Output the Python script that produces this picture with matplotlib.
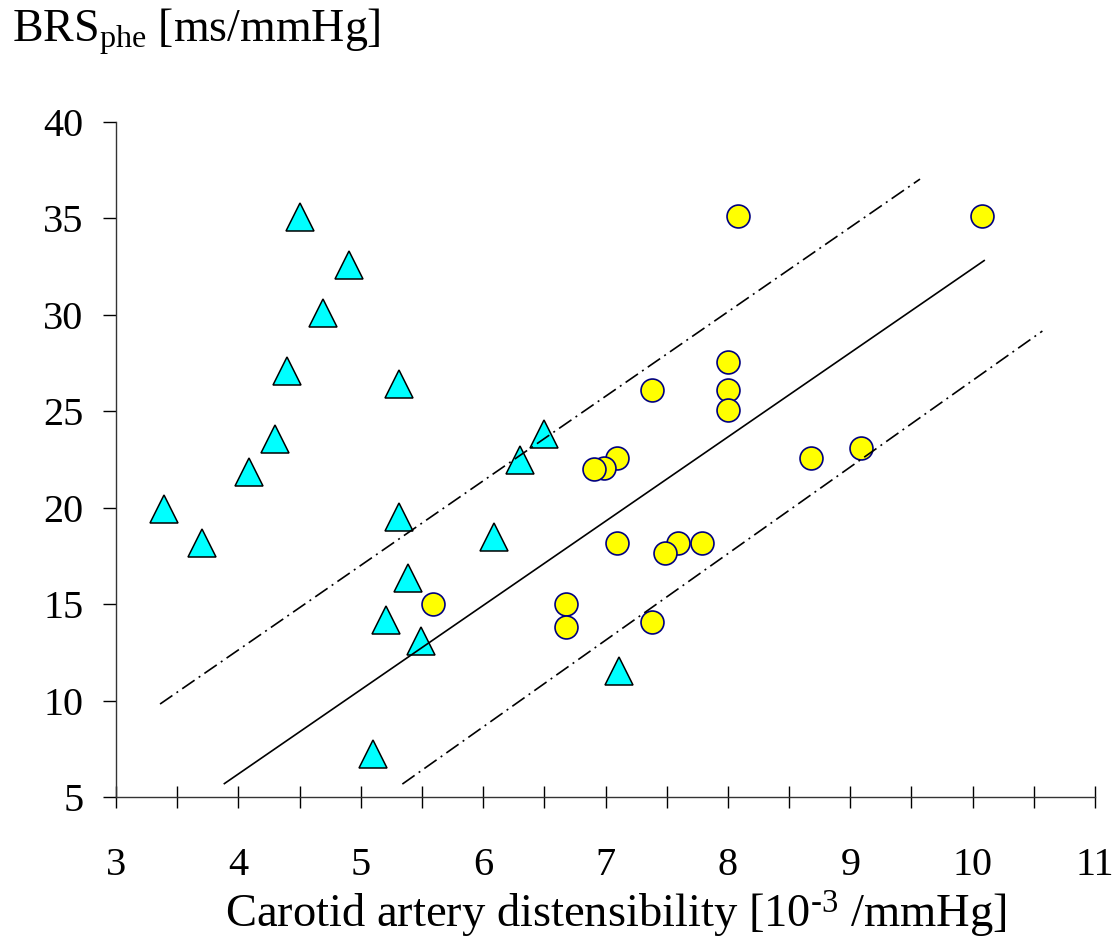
import matplotlib
matplotlib.use("Agg")
import matplotlib.pyplot as plt
from matplotlib.ticker import MultipleLocator
import numpy as np

# ---- data ----
tri_x = [3.39, 3.70, 4.09, 4.30, 4.40, 4.50, 4.69, 4.90, 5.31, 5.31, 5.39, 5.21, 5.49, 5.10, 6.09, 6.30, 6.50, 7.11]
tri_y = [19.92, 18.18, 21.86, 23.56, 27.08, 35.07, 30.09, 32.58, 26.43, 19.52, 16.37, 14.16, 13.09, 7.24, 18.46, 22.50, 23.82, 11.55]

circ_x = [5.59, 6.68, 6.68, 7.09, 6.99, 6.91, 7.09, 7.38, 7.38, 7.59, 7.49, 7.79, 8.00, 8.00, 8.00, 8.08, 8.68, 9.09, 10.08]
circ_y = [15.00, 15.00, 13.83, 22.60, 22.04, 22.00, 18.15, 26.10, 14.09, 18.18, 17.63, 18.15, 27.55, 26.10, 25.06, 35.12, 22.58, 23.12, 35.12]

reg_x = [3.88, 10.10]
reg_y = [5.67, 32.84]
upper_x = [3.36, 9.57]
upper_y = [9.82, 37.04]
lower_x = [5.34, 10.57]
lower_y = [5.67, 29.16]

x_ticks = [3, 4, 5, 6, 7, 8, 9, 10, 11]
y_ticks = [5, 10, 15, 20, 25, 30, 35, 40]

title_text = r"BRS$_{\mathrm{phe}}$ [ms/mmHg]"
xlabel_text = "Carotid artery distensibility [10$^{\\mathrm{\u20103}}$ /mmHg]"

# ---- style ----
plt.rcParams['font.family'] = ['Liberation Serif', 'DejaVu Serif']
plt.rcParams['mathtext.fontset'] = 'custom'
plt.rcParams['mathtext.rm'] = 'Liberation Serif'
plt.rcParams['mathtext.it'] = 'Liberation Serif:italic'
plt.rcParams['lines.scale_dashes'] = False

W, H = 1115, 948
fig = plt.figure(figsize=(W / 100, H / 100), dpi=100)
ax = fig.add_axes([116 / W, 1 - 797 / H, (1095 - 116) / W, (797 - 122) / H])

ax.set_xlim(3, 11)
ax.set_ylim(5, 40)

ax.plot(tri_x, tri_y, linestyle='none', marker='^', markersize=19.5,
        markerfacecolor='#00FFFF', markeredgecolor='black', markeredgewidth=1.1, zorder=3)
ax.plot(circ_x, circ_y, linestyle='none', marker='o', markersize=16.5,
        markerfacecolor='#FFFF00', markeredgecolor='#000080', markeredgewidth=1.2, zorder=3)

ax.plot(reg_x, reg_y, color='black', lw=1.2, zorder=4, solid_capstyle='butt')
dd = (0, (10.8, 3.6, 1.4, 3.6))
ax.plot(upper_x, upper_y, color='black', lw=1.2, linestyle=dd, zorder=4)
ax.plot(lower_x, lower_y, color='black', lw=1.2, linestyle=dd, zorder=4)

for s in ['top', 'right']:
    ax.spines[s].set_visible(False)
for s in ['left', 'bottom']:
    ax.spines[s].set_color('#333333')
    ax.spines[s].set_linewidth(1.0)

ax.set_xticks(x_ticks)
ax.set_xticklabels([str(t) for t in x_ticks])
ax.xaxis.set_minor_locator(MultipleLocator(0.5))
ax.set_yticks(y_ticks)
ax.set_yticklabels([str(t) for t in y_ticks])

ax.tick_params(axis='x', which='both', direction='inout', length=16, width=1.0, color='black')
ax.tick_params(axis='x', which='major', labelsize=29, pad=28)
ax.tick_params(axis='y', which='major', direction='out', length=9.5, width=1.0,
               labelsize=29, pad=14, color='black')

fig.text(12 / W, 1 - 42 / H, title_text, fontsize=33, ha='left', va='baseline')
fig.text(616 / W, 1 - 928 / H, xlabel_text, fontsize=33.5, ha='center', va='baseline')

fig.savefig('out.png', dpi=100, facecolor='white')
